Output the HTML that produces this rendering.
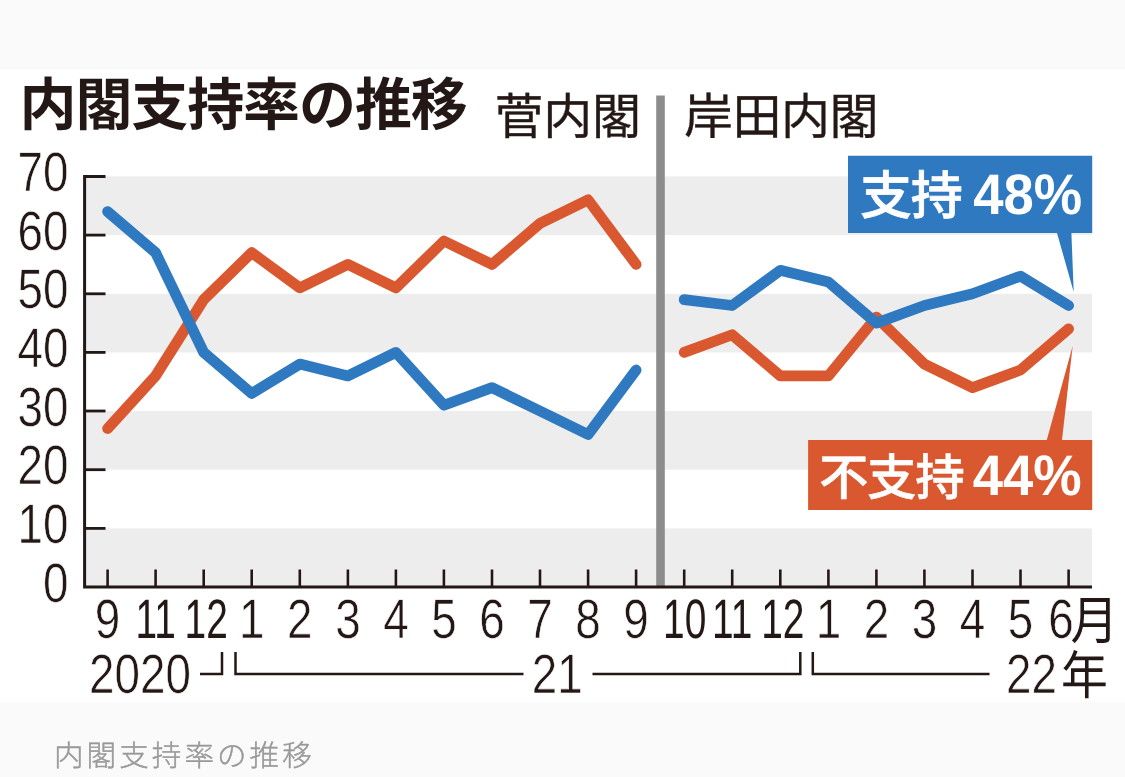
<!DOCTYPE html>
<html lang="ja"><head><meta charset="utf-8"><title>内閣支持率の推移</title>
<style>
html,body{margin:0;padding:0;background:#fafafa;}
body{width:1125px;height:777px;overflow:hidden;position:relative;font-family:"Liberation Sans","Noto Sans CJK JP",sans-serif;}
svg{position:absolute;left:0;top:0;display:block;will-change:transform;}
text{font-family:"Liberation Sans","Noto Sans CJK JP",sans-serif;text-rendering:geometricPrecision;}
.num{stroke:#fff;stroke-width:0.6px;}
.num2{stroke:none;}
</style></head><body>
<svg width="1125" height="777" viewBox="0 0 1125 777">
<rect x="0" y="0" width="1125" height="777" fill="#fafafa"/>
<rect x="0" y="69.5" width="1125" height="632.5" fill="#ffffff"/>

<rect x="85" y="176.4" width="1007" height="58.7" fill="#ededed"/>
<rect x="85" y="293.8" width="1007" height="58.7" fill="#ededed"/>
<rect x="85" y="411.0" width="1007" height="58.7" fill="#ededed"/>
<rect x="85" y="528.4" width="1007" height="58.7" fill="#ededed"/>
<rect x="656.2" y="95.5" width="8.6" height="491" fill="#8c8c8c"/>
<path d="M105.5 176.6H84.6V587H1092" fill="none" stroke="#231815" stroke-width="3"/>
<path d="M84.6 528.4H105.5" stroke="#231815" stroke-width="2.8"/>
<path d="M84.6 469.7H105.5" stroke="#231815" stroke-width="2.8"/>
<path d="M84.6 411.0H105.5" stroke="#231815" stroke-width="2.8"/>
<path d="M84.6 352.4H105.5" stroke="#231815" stroke-width="2.8"/>
<path d="M84.6 293.8H105.5" stroke="#231815" stroke-width="2.8"/>
<path d="M84.6 235.1H105.5" stroke="#231815" stroke-width="2.8"/>
<path d="M107.6 587V569.5" stroke="#231815" stroke-width="2.6"/>
<path d="M155.6 587V569.5" stroke="#231815" stroke-width="2.6"/>
<path d="M203.7 587V569.5" stroke="#231815" stroke-width="2.6"/>
<path d="M251.7 587V569.5" stroke="#231815" stroke-width="2.6"/>
<path d="M299.8 587V569.5" stroke="#231815" stroke-width="2.6"/>
<path d="M347.9 587V569.5" stroke="#231815" stroke-width="2.6"/>
<path d="M395.9 587V569.5" stroke="#231815" stroke-width="2.6"/>
<path d="M443.9 587V569.5" stroke="#231815" stroke-width="2.6"/>
<path d="M492.0 587V569.5" stroke="#231815" stroke-width="2.6"/>
<path d="M540.0 587V569.5" stroke="#231815" stroke-width="2.6"/>
<path d="M588.1 587V569.5" stroke="#231815" stroke-width="2.6"/>
<path d="M636.1 587V569.5" stroke="#231815" stroke-width="2.6"/>
<path d="M684.2 587V569.5" stroke="#231815" stroke-width="2.6"/>
<path d="M732.2 587V569.5" stroke="#231815" stroke-width="2.6"/>
<path d="M780.3 587V569.5" stroke="#231815" stroke-width="2.6"/>
<path d="M828.4 587V569.5" stroke="#231815" stroke-width="2.6"/>
<path d="M876.4 587V569.5" stroke="#231815" stroke-width="2.6"/>
<path d="M924.4 587V569.5" stroke="#231815" stroke-width="2.6"/>
<path d="M972.5 587V569.5" stroke="#231815" stroke-width="2.6"/>
<path d="M1020.5 587V569.5" stroke="#231815" stroke-width="2.6"/>
<path d="M1068.6 587V569.5" stroke="#231815" stroke-width="2.6"/>
<polyline points="107.6,428.6 155.6,375.9 203.7,299.6 251.7,252.7 299.8,287.9 347.9,264.4 395.9,287.9 443.9,241.0 492.0,264.4 540.0,223.4 588.1,199.9 636.1,264.4" fill="none" stroke="#d9582f" stroke-width="10.8" stroke-linejoin="round" stroke-linecap="round"/>
<polyline points="107.6,211.6 155.6,252.7 203.7,352.4 251.7,393.5 299.8,364.1 347.9,375.9 395.9,352.4 443.9,405.2 492.0,387.6 540.0,411.0 588.1,434.5 636.1,370.0" fill="none" stroke="#2f79c1" stroke-width="10.8" stroke-linejoin="round" stroke-linecap="round"/>
<polyline points="684.2,352.4 732.2,334.8 780.3,375.9 828.4,375.9 876.4,317.2 924.4,364.1 972.5,387.6 1020.5,370.0 1068.6,328.9" fill="none" stroke="#d9582f" stroke-width="10.8" stroke-linejoin="round" stroke-linecap="round"/>
<polyline points="684.2,299.6 732.2,305.5 780.3,270.3 828.4,282.0 876.4,323.1 924.4,305.5 972.5,293.8 1020.5,276.2 1068.6,305.5" fill="none" stroke="#2f79c1" stroke-width="10.8" stroke-linejoin="round" stroke-linecap="round"/>
<text class="num" transform="translate(68.5 601.6) scale(0.825 1)" text-anchor="end" font-size="55.5" fill="#231815">0</text>
<text class="num" transform="translate(68.5 543.0) scale(0.825 1)" text-anchor="end" font-size="55.5" fill="#231815">10</text>
<text class="num" transform="translate(68.5 484.3) scale(0.825 1)" text-anchor="end" font-size="55.5" fill="#231815">20</text>
<text class="num" transform="translate(68.5 425.6) scale(0.825 1)" text-anchor="end" font-size="55.5" fill="#231815">30</text>
<text class="num" transform="translate(68.5 367.0) scale(0.825 1)" text-anchor="end" font-size="55.5" fill="#231815">40</text>
<text class="num" transform="translate(68.5 308.4) scale(0.825 1)" text-anchor="end" font-size="55.5" fill="#231815">50</text>
<text class="num" transform="translate(68.5 249.7) scale(0.825 1)" text-anchor="end" font-size="55.5" fill="#231815">60</text>
<text class="num" transform="translate(68.5 191.0) scale(0.825 1)" text-anchor="end" font-size="55.5" fill="#231815">70</text>
<text class="num" transform="translate(107.6 637.5) scale(0.825 1)" text-anchor="middle" font-size="55.5" fill="#231815">9</text>
<text class="num2" transform="translate(155.6 637.5) scale(0.7 1)" text-anchor="middle" font-size="55.5" fill="#231815">11</text>
<text class="num2" transform="translate(206.2 637.5) scale(0.7 1)" text-anchor="middle" font-size="55.5" fill="#231815">12</text>
<text class="num" transform="translate(251.7 637.5) scale(0.825 1)" text-anchor="middle" font-size="55.5" fill="#231815">1</text>
<text class="num" transform="translate(299.8 637.5) scale(0.825 1)" text-anchor="middle" font-size="55.5" fill="#231815">2</text>
<text class="num" transform="translate(347.9 637.5) scale(0.825 1)" text-anchor="middle" font-size="55.5" fill="#231815">3</text>
<text class="num" transform="translate(395.9 637.5) scale(0.825 1)" text-anchor="middle" font-size="55.5" fill="#231815">4</text>
<text class="num" transform="translate(443.9 637.5) scale(0.825 1)" text-anchor="middle" font-size="55.5" fill="#231815">5</text>
<text class="num" transform="translate(492.0 637.5) scale(0.825 1)" text-anchor="middle" font-size="55.5" fill="#231815">6</text>
<text class="num" transform="translate(540.0 637.5) scale(0.825 1)" text-anchor="middle" font-size="55.5" fill="#231815">7</text>
<text class="num" transform="translate(588.1 637.5) scale(0.825 1)" text-anchor="middle" font-size="55.5" fill="#231815">8</text>
<text class="num" transform="translate(636.1 637.5) scale(0.825 1)" text-anchor="middle" font-size="55.5" fill="#231815">9</text>
<text class="num2" transform="translate(684.7 637.5) scale(0.7 1)" text-anchor="middle" font-size="55.5" fill="#231815">10</text>
<text class="num2" transform="translate(732.2 637.5) scale(0.7 1)" text-anchor="middle" font-size="55.5" fill="#231815">11</text>
<text class="num2" transform="translate(782.8 637.5) scale(0.7 1)" text-anchor="middle" font-size="55.5" fill="#231815">12</text>
<text class="num" transform="translate(828.4 637.5) scale(0.825 1)" text-anchor="middle" font-size="55.5" fill="#231815">1</text>
<text class="num" transform="translate(876.4 637.5) scale(0.825 1)" text-anchor="middle" font-size="55.5" fill="#231815">2</text>
<text class="num" transform="translate(924.4 637.5) scale(0.825 1)" text-anchor="middle" font-size="55.5" fill="#231815">3</text>
<text class="num" transform="translate(972.5 637.5) scale(0.825 1)" text-anchor="middle" font-size="55.5" fill="#231815">4</text>
<text class="num" transform="translate(1020.5 637.5) scale(0.825 1)" text-anchor="middle" font-size="55.5" fill="#231815">5</text>
<text class="num" transform="translate(1061.1 637.5) scale(0.825 1)" text-anchor="middle" font-size="55.5" fill="#231815">6</text>
<text transform="translate(1094.3 639) scale(0.92 1)" text-anchor="middle" font-size="52" font-weight="400" fill="#231815">月</text>
<text class="num" transform="translate(89 693) scale(0.825 1)" font-size="55.5" fill="#231815">2020</text>
<text class="num" transform="translate(557.3 693) scale(0.825 1)" text-anchor="middle" font-size="55.5" fill="#231815">21</text>
<text class="num" transform="translate(1006 693) scale(0.825 1)" font-size="55.5" fill="#231815">22</text>
<text transform="translate(1084.5 694.3) scale(0.9 1)" text-anchor="middle" font-size="52" font-weight="400" fill="#231815">年</text>
<path d="M200 674H222V652" fill="none" stroke="#231815" stroke-width="2.5"/>
<path d="M235.5 652V674H523.5" fill="none" stroke="#231815" stroke-width="2.5"/>
<path d="M592.5 674H800.3V652" fill="none" stroke="#231815" stroke-width="2.5"/>
<path d="M812.8 652V674H989.5" fill="none" stroke="#231815" stroke-width="2.5"/>
<text x="19.5" y="125" font-size="57" font-weight="700" letter-spacing="-1.1" fill="#231815">内閣支持率の推移</text>
<text x="494.5" y="134" font-size="49" letter-spacing="-0.3" fill="#231815" stroke="#231815" stroke-width="0.35">菅内閣</text>
<text x="684" y="134" font-size="49" letter-spacing="-0.5" fill="#231815" stroke="#231815" stroke-width="0.35">岸田内閣</text>
<path d="M848 155.7H1092.2V233H1071.4L1073.7 292L1057 233H848Z" fill="#2f79c1"/>
<text x="860" y="214" font-size="52" font-weight="500" letter-spacing="-1.2" fill="#fff" stroke="#fff" stroke-width="0.7">支持</text>
<text transform="translate(973.3 213.8) scale(0.955 1)" font-size="57" font-weight="700" fill="#fff">48%</text>
<path d="M808.1 440H1046.8L1072.7 345.7L1062 440H1092.2V510H808.1Z" fill="#d9582f"/>
<text x="819" y="495.2" font-size="49.5" font-weight="500" letter-spacing="-1.4" fill="#fff" stroke="#fff" stroke-width="0.5">不支持</text>
<text transform="translate(972.8 494.8) scale(0.955 1)" font-size="57" font-weight="700" fill="#fff">44%</text>
<text x="54" y="766" font-size="29.5" font-weight="300" letter-spacing="3.1" fill="#999999" stroke="#999999" stroke-width="0.45">内閣支持率の推移</text>
</svg></body></html>
